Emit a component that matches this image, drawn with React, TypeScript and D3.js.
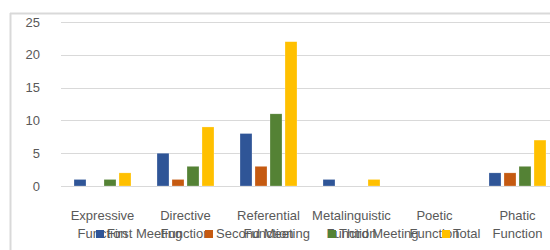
import React from "react";
import * as d3 from "d3";

const categories = ["Expressive Function", "Directive Function", "Referential Function", "Metalinguistic Function", "Poetic Function", "Phatic Function"];
const seriesNames = ["First Meeting", "Second Meeting", "Third Meeting", "Total"];
const firstMeeting = [1, 5, 8, 1, 0, 2];
const secondMeeting = [0, 1, 3, 0, 0, 2];
const thirdMeeting = [1, 3, 11, 0, 0, 3];
const total = [2, 9, 22, 1, 0, 7];
const yTicks = [0, 5, 10, 15, 20, 25];
const colors = ["#2F5597", "#C55A11", "#548235", "#FFC000"];

const series = [firstMeeting, secondMeeting, thirdMeeting, total];

export default function App() {
  const W = 550, H = 250;
  const x0 = d3.scaleBand<string>().domain(categories).range([61, 559]).paddingInner(0).paddingOuter(0);
  const y = d3.scaleLinear().domain([0, 25]).range([186, 22]);
  const barW = 12, gap = 3;
  const groupW = barW * 4 + gap * 3;
  const font = "'Liberation Sans', Arial, sans-serif";
  const legendX = [96, 205, 328, 442];

  return (
    <svg width={W} height={H} style={{ position: "absolute", left: 0, top: 0, background: "#fff" }}>
      <rect x={0} y={0} width={W} height={H} fill="#fff" />
      <line x1={10.5} y1={13} x2={10.5} y2={H} stroke="#d9d9d9" strokeWidth={2} />
      <line x1={10} y1={13.5} x2={W} y2={13.5} stroke="#d9d9d9" strokeWidth={2} />
      {yTicks.map((t) => (
        <g key={t}>
          <line x1={61} x2={W} y1={Math.round(y(t)) + 0.5} y2={Math.round(y(t)) + 0.5} stroke="#d9d9d9" strokeWidth={1} />
          <text x={40} y={y(t)} dy="0.35em" textAnchor="end" fontFamily={font} fontSize={13} fill="#595959">{t}</text>
        </g>
      ))}
      {categories.map((c, i) => {
        const cx = (x0(c) as number) + x0.bandwidth() / 2;
        const start = cx - groupW / 2;
        return (
          <g key={c}>
            {series.map((s, j) => {
              const v = s[i];
              if (v === 0) return null;
              return (
                <rect key={j} x={start + j * (barW + gap)} y={y(v)} width={barW} height={y(0) - y(v)} fill={colors[j]} stroke="#ffffff" strokeOpacity={0.5} strokeWidth={0.5} />
              );
            })}
            {c.split(" ").map((w, k) => (
              <text key={k} x={cx} y={219.5 + k * 18.5} textAnchor="middle" fontFamily={font} fontSize={13} fill="#595959">{w}</text>
            ))}
          </g>
        );
      })}
      {seriesNames.map((n, j) => (
        <g key={n}>
          <rect x={legendX[j]} y={230} width={8} height={8} fill={colors[j]} />
          <text x={legendX[j] + 11} y={238} fontFamily={font} fontSize={13} fill="#595959">{n}</text>
        </g>
      ))}
    </svg>
  );
}
